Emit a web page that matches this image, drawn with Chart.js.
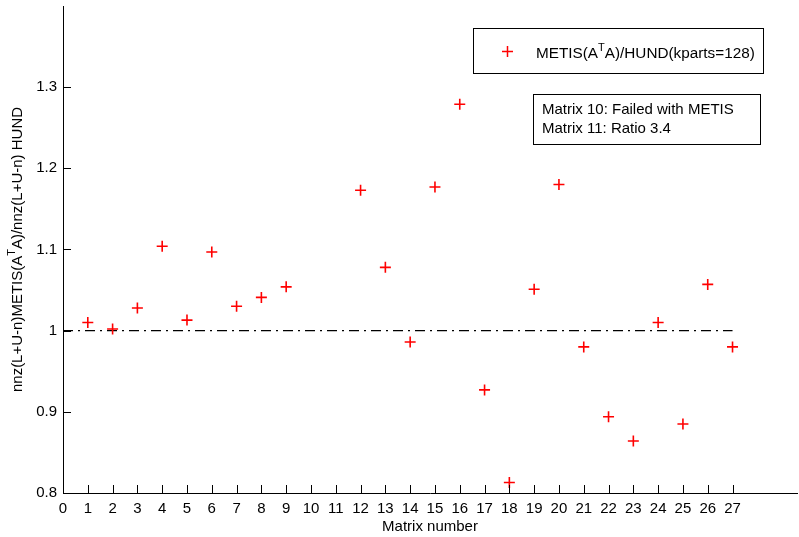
<!DOCTYPE html>
<html lang="en">
  <head>
    <meta charset="UTF-8" />
    <title>METIS / HUND fill ratio</title>
    <script src="https://cdn.jsdelivr.net/npm/chart.js@4.4.0/dist/chart.umd.min.js"></script>
    <style>
      body { margin: 0; background: #fff; }
    </style>
  </head>
  <body>
    <canvas id="myChart" width="799" height="537"></canvas>

    <script>
      // matrices 10 and 11 have no point (see note box)
      const matrices = [1, 2, 3, 4, 5, 6, 7, 8, 9, 12, 13, 14, 15, 16, 17, 18, 19, 20, 21, 22, 23, 24, 25, 26, 27];
      const ratios = [1.010, 1.002, 1.028, 1.104, 1.013, 1.097, 1.030, 1.041, 1.054, 1.173, 1.078, 0.986, 1.177, 1.279, 0.927, 0.813, 1.051, 1.180, 0.980, 0.894, 0.864, 1.010, 0.885, 1.057, 0.980];
      const refLineX = [0, 27];
      const refLineY = [1, 1];
      const xTicks = [0, 1, 2, 3, 4, 5, 6, 7, 8, 9, 10, 11, 12, 13, 14, 15, 16, 17, 18, 19, 20, 21, 22, 23, 24, 25, 26, 27];
      const yTicks = [0.8, 0.9, 1.0, 1.1, 1.2, 1.3];
      const legendLabel = ["METIS(A", "T", "A)/HUND(kparts=128)"];
      const yTitle = ["nnz(L+U-n)METIS(A", "T", "A)/nnz(L+U-n) HUND"];
      const xTitle = "Matrix number";
      const notes = ["Matrix 10: Failed with METIS", "Matrix 11: Ratio 3.4"];

      const FONT = "Liberation Sans, Arial, sans-serif";

      // text with a superscript middle part, drawn left to right from x
      function supText(ctx, parts, x, y, size) {
        ctx.font = size + "px " + FONT;
        ctx.fillText(parts[0], x, y);
        x += ctx.measureText(parts[0]).width;
        ctx.font = Math.round(size * 0.7) + "px " + FONT;
        ctx.fillText(parts[1], x, y - size * 0.4);
        x += ctx.measureText(parts[1]).width;
        ctx.font = size + "px " + FONT;
        ctx.fillText(parts[2], x, y);
        return x + ctx.measureText(parts[2]).width;
      }
      function supWidth(ctx, parts, size) {
        ctx.font = size + "px " + FONT;
        let w = ctx.measureText(parts[0]).width + ctx.measureText(parts[2]).width;
        ctx.font = Math.round(size * 0.7) + "px " + FONT;
        return w + ctx.measureText(parts[1]).width;
      }

      const extras = {
        id: "extras",
        afterDraw(chart) {
          const ctx = chart.ctx;
          const area = chart.chartArea;
          const xs = chart.scales.x, ys = chart.scales.y;
          ctx.save();
          ctx.strokeStyle = "#000";
          ctx.lineWidth = 1;
          // inward tick marks
          ctx.beginPath();
          xTicks.forEach((t) => {
            const px = Math.round(xs.getPixelForValue(t)) + 0.5;
            ctx.moveTo(px, area.bottom);
            ctx.lineTo(px, area.bottom - 8);
          });
          yTicks.forEach((t) => {
            const py = Math.round(ys.getPixelForValue(t)) + 0.5;
            ctx.moveTo(area.left, py);
            ctx.lineTo(area.left + 8, py);
          });
          ctx.stroke();

          ctx.fillStyle = "#000";
          ctx.textBaseline = "middle";

          // x title
          ctx.font = "15px " + FONT;
          ctx.textAlign = "center";
          ctx.fillText(xTitle, (area.left + area.right) / 2, 527);

          // y title, rotated
          ctx.save();
          ctx.translate(18, (area.top + area.bottom) / 2);
          ctx.rotate(-Math.PI / 2);
          ctx.textAlign = "left";
          const yw = supWidth(ctx, yTitle, 15);
          supText(ctx, yTitle, -yw / 2, 0, 15);
          ctx.restore();

          // legend box
          ctx.textAlign = "left";
          ctx.fillStyle = "#fff";
          ctx.fillRect(473.5, 28.5, 290, 45);
          ctx.strokeRect(473.5, 28.5, 290, 45);
          ctx.strokeStyle = "#ff0000";
          ctx.lineWidth = 1.5;
          ctx.beginPath();
          ctx.moveTo(502, 51.5); ctx.lineTo(513, 51.5);
          ctx.moveTo(507.5, 46); ctx.lineTo(507.5, 57);
          ctx.stroke();
          ctx.lineWidth = 1;
          ctx.fillStyle = "#000";
          supText(ctx, legendLabel, 536, 54, 15.3);

          // note box
          ctx.strokeStyle = "#000";
          ctx.fillStyle = "#fff";
          ctx.fillRect(533.5, 94.5, 227, 50);
          ctx.strokeRect(533.5, 94.5, 227, 50);
          ctx.fillStyle = "#000";
          ctx.font = "15px " + FONT;
          ctx.fillText(notes[0], 542, 110);
          ctx.fillText(notes[1], 542, 129);
          ctx.restore();
        },
      };

      const ctx = document.getElementById("myChart").getContext("2d");
      const myChart = new Chart(ctx, {
        type: "scatter",
        data: {
          datasets: [
            {
              label: "METIS(ATA)/HUND(kparts=128)",
              data: matrices.map((m, i) => ({ x: m, y: ratios[i] })),
              pointStyle: "cross",
              pointRadius: 5.5,
              pointBorderWidth: 1.6,
              borderColor: "#ff0000",
              backgroundColor: "#ff0000",
              showLine: false,
            },
            {
              type: "line",
              data: refLineX.map((x, i) => ({ x: x, y: refLineY[i] })),
              borderColor: "#000",
              borderWidth: 1.3,
              borderDash: [10, 5, 2, 5],
              pointRadius: 0,
              fill: false,
            },
          ],
        },
        options: {
          responsive: false,
          animation: false,
          layout: { autoPadding: false, padding: { top: 6, right: 2, left: 0, bottom: 0 } },
          plugins: { legend: { display: false }, tooltip: { enabled: false } },
          scales: {
            x: {
              type: "linear",
              min: 0,
              max: 29.6,
              afterBuildTicks: (scale) => {
                scale.ticks = xTicks.map((v) => ({ value: v }));
              },
              afterFit: (scale) => {
                scale.height = 44;
                scale.paddingLeft = 0;
                scale.paddingRight = 0;
              },
              grid: { display: false, drawTicks: false },
              border: { display: true, color: "#000", width: 1 },
              ticks: {
                autoSkip: false,
                maxRotation: 0,
                padding: 7,
                color: "#000",
                font: { family: FONT, size: 15 },
                callback: (v) => String(v),
              },
            },
            y: {
              min: 0.8,
              max: 1.4,
              afterBuildTicks: (scale) => {
                scale.ticks = yTicks.map((v) => ({ value: v }));
              },
              afterFit: (scale) => {
                scale.width = 63;
                scale.paddingTop = 0;
                scale.paddingBottom = 0;
              },
              grid: { display: false, drawTicks: false },
              border: { display: true, color: "#000", width: 1 },
              ticks: {
                padding: 6,
                color: "#000",
                font: { family: FONT, size: 15 },
                callback: (v) => String(Number(v.toFixed(1))),
              },
            },
          },
        },
        plugins: [extras],
      });
    </script>
  </body>
</html>
